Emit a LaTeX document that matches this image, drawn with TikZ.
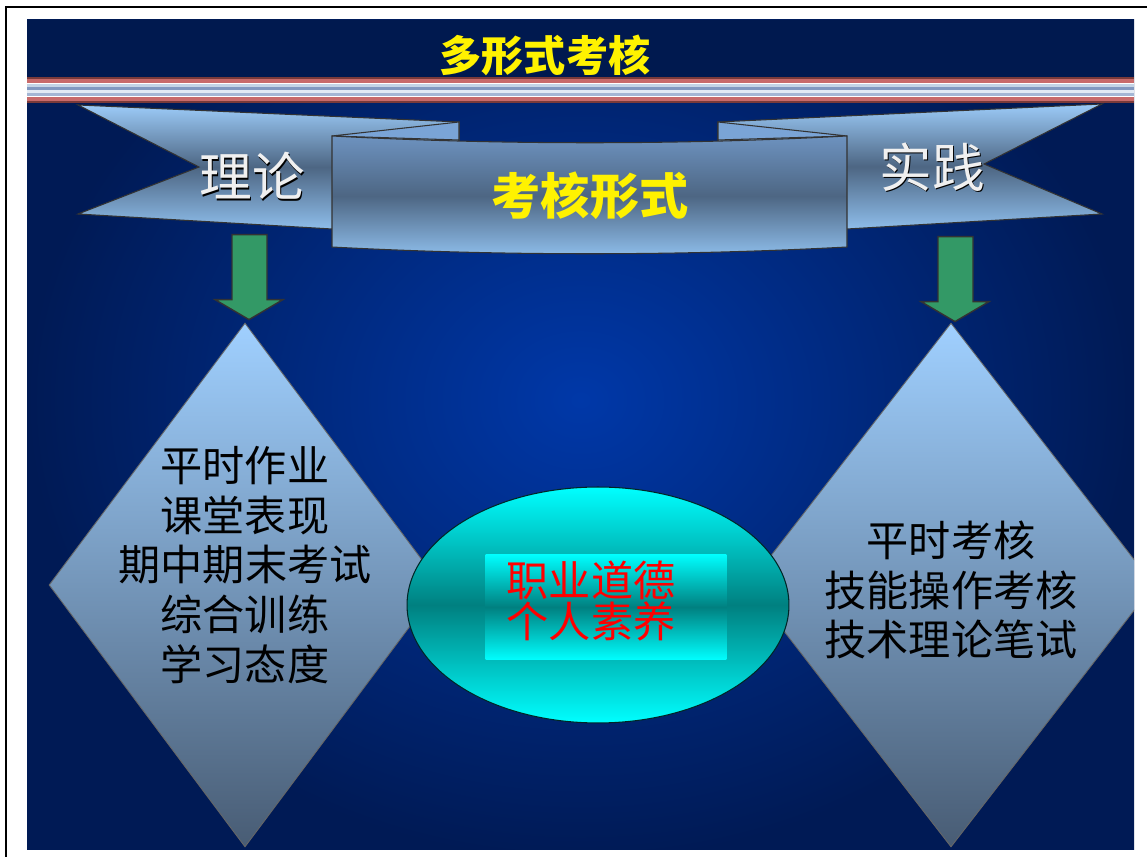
\documentclass[tikz,border=0pt]{standalone}
\usepackage{fontspec}
\newfontfamily\cjk{Noto Sans CJK SC}
\usepackage{tikz}
\usetikzlibrary{shapes.geometric}
\usepackage{xcolor}

\definecolor{navy}{HTML}{00194F}
\definecolor{bgblue}{HTML}{0038A8}
\definecolor{bgdark}{HTML}{001A55}
\definecolor{stripedark}{HTML}{7A3A3A}
\definecolor{stripered}{HTML}{C86A6A}
\definecolor{stripelight}{HTML}{C4D4E6}
\definecolor{stripegrey}{HTML}{8298C0}
\definecolor{stripewhite}{HTML}{E2EAF4}
\definecolor{stripeblue}{HTML}{A4B6D4}
\definecolor{ribtop}{HTML}{9CCBF8}
\definecolor{ribmid}{HTML}{4D6683}
\definecolor{ribbot}{HTML}{8EBDEA}
\definecolor{paneltop}{HTML}{6D92BF}
\definecolor{foldblue}{HTML}{7AA4D6}
\definecolor{arrowgreen}{HTML}{339966}
\definecolor{diatop}{HTML}{A0D0FF}
\definecolor{diabot}{HTML}{485C74}
\definecolor{tealmid}{HTML}{008080}

\tikzset{
  ribbon/.style={draw=black!80, line width=0.6pt, top color=ribtop, bottom color=ribbot, middle color=ribmid},
  panel/.style={draw=black!80, line width=0.6pt, top color=paneltop, bottom color=ribbot, middle color=ribmid},
  fold/.style={draw=black!80, line width=0.6pt, fill=foldblue},
  greenarrow/.style={draw=black!80, line width=0.8pt, fill=arrowgreen},
  dia/.style={diamond, draw=black!60, line width=0.5pt, top color=diatop, bottom color=diabot, inner sep=0pt},
  diatext/.style={align=center, text=black, font=\cjk\fontsize{24pt}{28.3pt}\selectfont},
  core/.style={ellipse, draw=black!70!teal, line width=0.6pt, top color=cyan, bottom color=cyan, middle color=tealmid,
    minimum width=7.64cm, minimum height=4.72cm, inner sep=0pt},
  corebox/.style={rectangle, top color=cyan, bottom color=cyan, middle color=tealmid,
    minimum width=4.82cm, minimum height=2.12cm, inner sep=0pt},
  silver/.style={font=\cjk\fontsize{30pt}{30pt}\selectfont},
  headline/.style={text=yellow, font=\cjk\bfseries\fontsize{24pt}{24pt}\selectfont},
  frame/.style={line width=0.04cm, black}
}

\begin{document}
\begin{tikzpicture}[x=0.02cm, y=-0.02cm]
  \useasboundingbox (0,0) rectangle (1147,857);
  \fill[white] (0,0) rectangle (1147,857);

  \begin{scope}
  \clip (27,20) rectangle (1134,850);
  % background
  \shade[inner color=bgblue, outer color=bgdark] (27,-60) rectangle (1134,860);
  \fill[navy] (27,20) rectangle (1134,77);
  \foreach \ya/\yb/\c in {77/79/stripedark, 79/83/stripered, 83/84/white, 84/87/stripelight,
      87/90/stripegrey, 90/93/stripewhite, 93/96/stripeblue, 96/97/white, 97/101/stripered, 101/103/stripedark}
    \fill[\c] (27,\ya) rectangle (1134,\yb);
  \node[headline] (title) at (545,55) {多形式考核};

  % ribbon
  \draw[ribbon] (78,105) -- (459,122) -- (459,229) -- (332,229) -- (78,214) -- (199,167) -- cycle;
  \draw[ribbon] (1102,104) -- (718,122) -- (718,229) -- (847,229) -- (1102,214) -- (984,164) -- cycle;
  \draw[fold] (332,136) -- (459,122) -- (459,140) -- cycle;
  \draw[fold] (847,136) -- (718,122) -- (718,140) -- cycle;
  \draw[panel] (332,136) .. controls (500,145) and (680,145) .. (847,136) -- (847,247)
     .. controls (680,256) and (500,256) .. (332,247) -- cycle;
  \node[silver, text=black] (theoryshadow) at (253.5,177.5) {理论};
  \node[silver, text=gray!12] (theory) at (252,176) {理论};
  \node[silver, text=black] (practiceshadow) at (933.5,168.5) {实践};
  \node[silver, text=gray!12] (practice) at (932,167) {实践};
  \node[text=yellow, font=\cjk\bfseries\fontsize{28pt}{28pt}\selectfont] (forms) at (590,196) {考核形式};

  % diamonds
  \node[dia, minimum width=7.84cm, minimum height=10.48cm] (ldia) at (245,585) {};
  \node[dia, minimum width=8.12cm, minimum height=10.48cm] (rdia) at (951,585) {};
  \node[diatext] (ltxt) at (245,565) {平时作业\\课堂表现\\期中期末考试\\综合训练\\学习态度};
  \node[diatext] (rtxt) at (951,590) {平时考核\\技能操作考核\\技术理论笔试};

  \draw[greenarrow] (ldia.north) ++(4,-3) -- ++(-34,-20) -- ++(17,0) -- ++(0,-65) -- ++(35,0)
     -- ++(0,65) -- ++(16,0) -- cycle;
  \draw[greenarrow] (rdia.north) ++(4,-1) -- ++(-34,-20) -- ++(17,0) -- ++(0,-65) -- ++(35,0)
     -- ++(0,65) -- ++(16,0) -- cycle;

  % centre
  \node[core] (core) at (598,605) {};
  \node[corebox] (corebox) at (606,607) {};
  \node[align=left, text=red, font=\cjk\fontsize{24pt}{21.5pt}\selectfont] (coretxt) at (591,601) {职业道德\\个人素养};
  \end{scope}

  \draw[frame] (6,857) -- (6,7) -- (1147,7);
\end{tikzpicture}
\end{document}
